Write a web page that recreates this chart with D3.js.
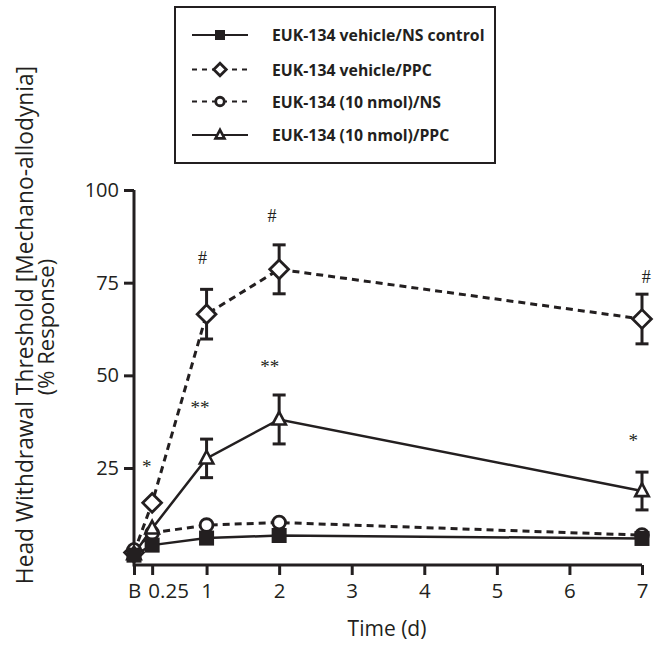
<!DOCTYPE html>
<html>
<head>
<meta charset="utf-8">
<script src="https://cdn.jsdelivr.net/npm/d3@7"></script>
<style>
  body { margin: 0; background: #fff; }
  svg { display: block; }
  text { font-family: "Open Sans", "Noto Sans", sans-serif; fill: #231f20; }
</style>
</head>
<body>
<svg id="chart" width="662" height="645"></svg>
<script>
// ---- data ----
const timeTicks = [0, 0.25, 1, 2, 3, 4, 5, 6, 7];
const timeTickLabels = ["B", "0.25", "1", "2", "3", "4", "5", "6", "7"];
const yTicks = [25, 50, 75, 100];
const timePoints = [0, 0.25, 1, 2, 7];

const seriesNames = [
  "EUK-134 vehicle/NS control",
  "EUK-134 vehicle/PPC",
  "EUK-134 (10 nmol)/NS",
  "EUK-134 (10 nmol)/PPC"
];
const vehicleNS  = [1.5, 4.2, 6.1, 6.8, 6.0];
const vehiclePPC = [2.2, 15.6, 66.5, 78.6, 65.2];
const eukNS      = [2.9, 7.5, 9.6, 10.3, 6.9];
const eukPPC     = [1.8, 8.7, 27.6, 38.1, 18.8];

const vehiclePPCErr = [0, 0, 6.7, 6.6, 6.7];
const eukPPCErr     = [0, 0, 5.2, 6.6, 5.1];

const annotLabels = ["*", "#", "#", "#", "**", "**", "*"];
const annotX      = [0.175, 0.945, 1.90, 7.06, 0.91, 1.87, 6.88];
const annotY      = [25.4, 81.6, 93.0, 76.6, 41.4, 52.5, 32.4];

// ---- chart ----
const svg = d3.select("#chart");
const x = d3.scaleLinear().domain([0, 7]).range([134, 642]);
const y = d3.scaleLinear().domain([0, 100]).range([560.7, 190]);
const axisY = 565;
const ink = "#231f20";

// axes
const xAxis = d3.axisBottom(x).tickValues(timeTicks)
  .tickFormat((d, i) => timeTickLabels[i]).tickSize(10).tickSizeOuter(0).tickPadding(8);
const gx = svg.append("g").attr("transform", `translate(0,${axisY})`).call(xAxis);
gx.select(".domain").attr("d", `M${x(0)},0H${x(7)}`).attr("stroke", ink).attr("stroke-width", 3);
gx.selectAll(".tick line").attr("stroke", ink).attr("stroke-width", 3);
gx.selectAll(".tick text").attr("font-size", 20.5).attr("fill", ink)
  .style("font-family", '"Open Sans", sans-serif')
  .attr("dx", d => d === 0.25 ? 16 : 0);

const yAxis = d3.axisLeft(y).tickValues(yTicks).tickSize(10).tickSizeOuter(0).tickPadding(5);
const gy = svg.append("g").attr("transform", `translate(${x(0)},0)`).call(yAxis);
gy.select(".domain").attr("d", `M0,${y(100)}V${axisY + 1.5}`).attr("stroke", ink).attr("stroke-width", 3);
gy.selectAll(".tick line").attr("stroke", ink).attr("stroke-width", 3);
gy.selectAll(".tick text").attr("font-size", 20).attr("fill", ink)
  .style("font-family", '"Open Sans", sans-serif');

// axis titles
svg.append("text").attr("x", 387).attr("y", 636).attr("text-anchor", "middle")
  .attr("font-size", 21).text("Time (d)");
svg.append("text").attr("transform", "translate(33,325) rotate(-90)")
  .attr("text-anchor", "middle").attr("font-size", 22.8)
  .text("Head Withdrawal Threshold [Mechano-allodynia]");
svg.append("text").attr("transform", "translate(54,327) rotate(-90)")
  .attr("text-anchor", "middle").attr("font-size", 22)
  .text("(% Response)");

// series definitions
const series = [
  { name: seriesNames[0], vals: vehicleNS, err: null, dash: null, sym: "square" },
  { name: seriesNames[1], vals: vehiclePPC, err: vehiclePPCErr, dash: "7,5", sym: "diamond" },
  { name: seriesNames[2], vals: eukNS, err: null, dash: "7,5", sym: "circle" },
  { name: seriesNames[3], vals: eukPPC, err: eukPPCErr, dash: null, sym: "triangle" }
];

function drawMarker(g, sym, cx, cy, s) {
  if (sym === "square") {
    g.append("rect").attr("x", cx - s).attr("y", cy - s).attr("width", 2 * s).attr("height", 2 * s)
      .attr("fill", ink);
  } else if (sym === "diamond") {
    g.append("path").attr("d", `M${cx},${cy - s * 1.25}L${cx + s * 1.25},${cy}L${cx},${cy + s * 1.25}L${cx - s * 1.25},${cy}Z`)
      .attr("fill", "#fff").attr("stroke", ink).attr("stroke-width", 2.8);
  } else if (sym === "circle") {
    g.append("circle").attr("cx", cx).attr("cy", cy).attr("r", s * 0.85)
      .attr("fill", "#fff").attr("stroke", ink).attr("stroke-width", 2.8);
  } else if (sym === "triangle") {
    const h = s * 1.7;
    g.append("path").attr("d", `M${cx},${cy - h * 0.6}L${cx + s * 0.9},${cy + h * 0.4}L${cx - s * 0.9},${cy + h * 0.4}Z`)
      .attr("fill", "#fff").attr("stroke", ink).attr("stroke-width", 2.6);
  }
}

const line = d3.line().x((d, i) => x(timePoints[i])).y(d => y(d));

const plot = svg.append("g");
series.forEach(s => {
  plot.append("path").datum(s.vals).attr("d", line).attr("fill", "none")
    .attr("stroke", ink).attr("stroke-width", s.dash ? 3 : 2.5)
    .attr("stroke-dasharray", s.dash);
});
series.forEach(s => {
  if (!s.err) return;
  s.vals.forEach((v, i) => {
    const e = s.err[i];
    if (!e) return;
    const cx = x(timePoints[i]);
    const g = plot.append("g").attr("stroke", ink).attr("stroke-width", 3);
    g.append("line").attr("x1", cx).attr("x2", cx).attr("y1", y(v + e)).attr("y2", y(v - e));
    g.append("line").attr("x1", cx - 6.5).attr("x2", cx + 6.5).attr("y1", y(v + e)).attr("y2", y(v + e));
    g.append("line").attr("x1", cx - 6.5).attr("x2", cx + 6.5).attr("y1", y(v - e)).attr("y2", y(v - e));
  });
});
// marker draw order: diamond, circle, triangle, square
const markerOrder = [1, 2, 3, 0];
markerOrder.forEach(k => {
  const s = series[k];
  s.vals.forEach((v, i) => {
    drawMarker(plot, s.sym, x(timePoints[i]), y(v), 7.5);
  });
});

// annotations
annotLabels.forEach((t, i) => {
  svg.append("text").attr("x", x(annotX[i])).attr("y", y(annotY[i]))
    .attr("text-anchor", "middle").attr("dominant-baseline", "central")
    .attr("font-size", t === "#" ? 18 : 19)
    .style("font-family", '"Liberation Serif", serif').attr("fill", "#333")
    .text(t);
});

// legend
const leg = svg.append("g");
leg.append("rect").attr("x", 175).attr("y", 7).attr("width", 320).attr("height", 156)
  .attr("fill", "#fff").attr("stroke", ink).attr("stroke-width", 2);
const rowY = [35, 69.5, 101.5, 135];
series.forEach((s, i) => {
  const ry = rowY[i];
  leg.append("line").attr("x1", 192).attr("x2", 248).attr("y1", ry).attr("y2", ry)
    .attr("stroke", ink).attr("stroke-width", 2.2).attr("stroke-dasharray", s.dash ? "5,5" : null);
  drawMarker(leg, s.sym, 220, ry, 5);
  leg.append("text").attr("x", 272).attr("y", ry).attr("dominant-baseline", "central")
    .attr("font-size", 15.8).attr("font-weight", "bold").text(s.name);
});
</script>
</body>
</html>
